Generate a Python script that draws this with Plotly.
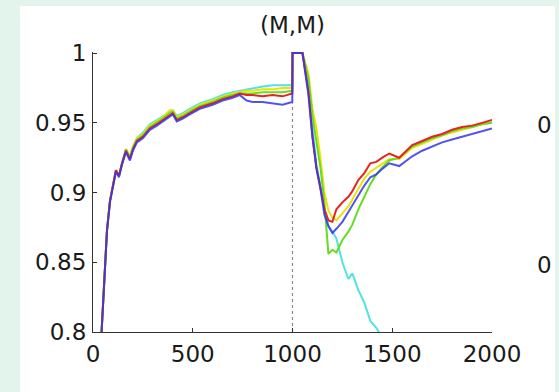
import plotly.graph_objects as go

# ---- data ----
steps = [43, 60, 70, 85, 100, 115, 130, 145, 165, 185, 200, 220, 250, 285, 320,
         350, 385, 400, 420, 450, 485, 535, 600, 650, 700, 735, 770, 800, 850, 900,
         950, 999, 1000, 1050, 1080, 1100, 1120, 1140, 1160, 1180, 1200, 1220, 1250, 1280, 1300,
         1330, 1360, 1390, 1420, 1450, 1485, 1535, 1600, 1650, 1700, 1750, 1800, 1850, 1900, 1950,
         2000]

cyan = [0.800, 0.843, 0.873, 0.894, 0.906, 0.916, 0.912, 0.921, 0.931, 0.926,
        0.933, 0.939, 0.943, 0.949, 0.952, 0.955, 0.958, 0.959, 0.955, 0.957,
        0.960, 0.964, 0.967, 0.970, 0.972, 0.973, 0.974, 0.975, 0.976, 0.977,
        0.977, 0.977, 1.0, 1.0, 0.975, 0.945, 0.920, 0.905, 0.888, 0.876,
        0.872, 0.867, 0.850, 0.838, 0.842, 0.830, 0.821, 0.808, 0.803, 0.796,
        None, None, None, None, None, None, None, None, None, None, None]

yellow = [0.800, 0.843, 0.873, 0.894, 0.906, 0.916, 0.912, 0.921, 0.931, 0.926,
          0.933, 0.939, 0.942, 0.948, 0.951, 0.954, 0.959, 0.959, 0.954, 0.956,
          0.959, 0.963, 0.966, 0.969, 0.971, 0.972, 0.973, 0.973, 0.974, 0.974,
          0.975, 0.975, 1.0, 1.0, 0.985, 0.960, 0.946, 0.925, 0.900, 0.887,
          0.882, 0.880, 0.885, 0.890, 0.895, 0.903, 0.910, 0.915, 0.918, 0.921,
          0.924, 0.924, 0.932, 0.935, 0.938, 0.941, 0.943, 0.945, 0.947, 0.949,
          0.950]

green = [0.800, 0.843, 0.873, 0.894, 0.906, 0.916, 0.912, 0.921, 0.931, 0.925,
         0.932, 0.938, 0.941, 0.947, 0.950, 0.953, 0.957, 0.958, 0.953, 0.955,
         0.958, 0.962, 0.965, 0.968, 0.970, 0.971, 0.971, 0.971, 0.972, 0.972,
         0.972, 0.973, 1.0, 1.0, 0.982, 0.955, 0.938, 0.918, 0.893, 0.856,
         0.859, 0.857, 0.866, 0.872, 0.877, 0.888, 0.897, 0.906, 0.913, 0.918,
         0.923, 0.925, 0.933, 0.936, 0.939, 0.941, 0.944, 0.946, 0.947, 0.949,
         0.950]

red = [0.800, 0.843, 0.873, 0.894, 0.906, 0.916, 0.912, 0.921, 0.930, 0.924,
       0.931, 0.937, 0.940, 0.946, 0.949, 0.952, 0.955, 0.957, 0.952, 0.954,
       0.957, 0.961, 0.964, 0.967, 0.969, 0.971, 0.970, 0.970, 0.969, 0.970,
       0.969, 0.971, 1.0, 1.0, 0.972, 0.940, 0.918, 0.903, 0.888, 0.880,
       0.879, 0.888, 0.893, 0.897, 0.901, 0.909, 0.914, 0.921, 0.922, 0.925,
       0.928, 0.925, 0.934, 0.937, 0.940, 0.942, 0.945, 0.947, 0.948, 0.950,
       0.952]

blue = [0.800, 0.842, 0.872, 0.893, 0.905, 0.915, 0.911, 0.920, 0.929, 0.923,
        0.930, 0.936, 0.939, 0.945, 0.948, 0.951, 0.954, 0.956, 0.951, 0.953,
        0.956, 0.960, 0.963, 0.966, 0.968, 0.970, 0.966, 0.965, 0.965, 0.964,
        0.963, 0.965, 1.0, 1.0, 0.970, 0.940, 0.917, 0.903, 0.884, 0.876,
        0.871, 0.874, 0.879, 0.886, 0.891, 0.898, 0.905, 0.911, 0.913, 0.917,
        0.921, 0.919, 0.926, 0.930, 0.933, 0.936, 0.938, 0.940, 0.942, 0.944,
        0.946]

x_ticks = [0, 500, 1000, 1500, 2000]
y_ticks = [0.8, 0.85, 0.9, 0.95, 1]
y_tick_labels = ["0.8", "0.85", "0.9", "0.95", "1"]
title_text = "(M,M)"
switch_point = 1000
switch_top = 0.964

series = [
    ("cyan", cyan, "#4fe3e3", 1.0),
    ("yellow", yellow, "#e8e40a", 1.0),
    ("green", green, "#66dd22", 1.0),
    ("red", red, "#e62222", 1.0),
    ("blue", blue, "#3535ee", 0.85),
]

FONT = "DejaVu Sans"
W, H = 559, 392
L, R, T, B = 93, 67, 52, 60

fig = go.Figure()
for name, ys, color, op in series:
    fig.add_trace(go.Scatter(x=steps, y=ys, mode="lines", name=name,
                             line=dict(color=color, width=2), opacity=op,
                             connectgaps=False, showlegend=False))


def px_x(p):
    return (p - L) / (W - L - R)


def px_y(p):
    return (H - B - p) / (H - T - B)


fig.update_layout(
    width=W, height=H,
    margin=dict(l=L, r=R, t=T, b=B),
    paper_bgcolor="#e3f4ec",
    plot_bgcolor="white",
    showlegend=False,
    shapes=[
        dict(type="rect", xref="paper", yref="paper",
             x0=px_x(20), x1=px_x(555), y0=px_y(392), y1=px_y(6),
             fillcolor="white", line=dict(width=0), layer="below"),
        dict(type="line", xref="x", yref="y", x0=switch_point, x1=switch_point,
             y0=0.8, y1=switch_top, line=dict(color="#8a8a8a", width=1.2, dash="dot"),
             layer="below"),
    ],
    annotations=[
        dict(text=title_text, xref="paper", yref="paper", x=0.5, y=px_y(25),
             showarrow=False, font=dict(family=FONT, size=23, color="#1a1a1a"),
             xanchor="center", yanchor="middle"),
        dict(text="0", xref="paper", yref="paper", x=px_x(544), y=px_y(125),
             showarrow=False, font=dict(family=FONT, size=23, color="#1a1a1a"),
             xanchor="center", yanchor="middle"),
        dict(text="0", xref="paper", yref="paper", x=px_x(544), y=px_y(265),
             showarrow=False, font=dict(family=FONT, size=23, color="#1a1a1a"),
             xanchor="center", yanchor="middle"),
    ],
)

fig.update_xaxes(range=[0, 2000], tickvals=x_ticks, ticktext=[str(v) for v in x_ticks],
                 showgrid=False, zeroline=False, showline=True, linecolor="#333333",
                 linewidth=1.2, ticks="inside", ticklen=4, tickcolor="#333333",
                 tickfont=dict(family=FONT, size=23, color="#1a1a1a"),
                 ticklabelstandoff=1)
fig.update_yaxes(range=[0.8, 1.0008], tickvals=y_ticks, ticktext=y_tick_labels,
                 showgrid=False, zeroline=False, showline=True, linecolor="#333333",
                 linewidth=1.2, ticks="inside", ticklen=4, tickcolor="#333333",
                 tickfont=dict(family=FONT, size=23, color="#1a1a1a"),
                 ticklabelstandoff=1)

fig.write_html("out.html",
               config={"displayModeBar": False},
               post_script="document.body.style.margin='0';"
                           "document.body.style.background='#e3f4ec';")
